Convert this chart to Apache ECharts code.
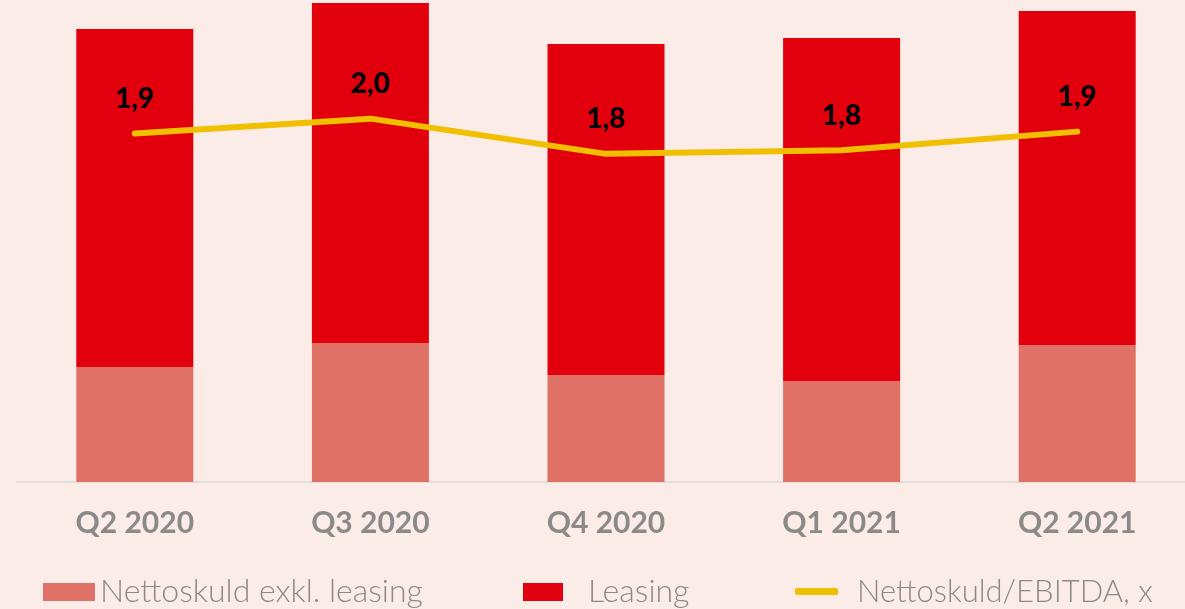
<!DOCTYPE html>
<html>
<head>
<meta charset="utf-8">
<script src="https://cdn.jsdelivr.net/npm/echarts@6/dist/echarts.min.js"></script>
<style>
  html, body { margin: 0; padding: 0; background: #FBECE8; }
  #chart { width: 1185px; height: 609px; }
</style>
</head>
<body>
<div id="chart"></div>
<script>
const quarters = ['Q2 2020', 'Q3 2020', 'Q4 2020', 'Q1 2021', 'Q2 2021'];
const nettoskuldExkl = [1150, 1390, 1070, 1010, 1370];
const leasing = [3380, 3400, 3310, 3430, 3340];
const nettoskuldEbitda = [1.88, 1.96, 1.77, 1.79, 1.89];

const gray = '#8C8A89';
const legendText = { color: gray, fontSize: 32, fontFamily: 'Lato', fontWeight: 300 };

const chart = echarts.init(document.getElementById('chart'));

chart.setOption({
    backgroundColor: '#FBECE8',
    animation: false,
    grid: { left: 17, width: 1178, top: 0, bottom: 127, outerBoundsMode: 'none', containLabel: false },
    legend: [
        {
            data: ['Nettoskuld exkl. leasing'],
            left: 38, top: 571,
            icon: 'rect',
            itemWidth: 52, itemHeight: 18,
            textStyle: legendText
        },
        {
            data: ['Leasing'],
            left: 518, top: 571,
            icon: 'rect',
            itemWidth: 40, itemHeight: 18,
            textStyle: Object.assign({}, legendText, { padding: [0, 0, 0, 20] })
        },
        {
            data: ['Nettoskuld/EBITDA, x'],
            left: 790, top: 571,
            icon: 'roundRect',
            itemWidth: 43, itemHeight: 7,
            textStyle: Object.assign({}, legendText, { fontSize: 31, padding: [0, 0, 0, 14] })
        }
    ],
    xAxis: {
        type: 'category',
        data: quarters,
        axisLine: { show: true, lineStyle: { color: '#E2DDDB', width: 2 } },
        axisTick: { show: false },
        axisLabel: {
            color: gray, fontSize: 30, fontWeight: 'bold',
            fontFamily: 'Lato', margin: 26
        }
    },
    yAxis: [
        { type: 'value', min: 0, max: 4820, show: false, splitLine: { show: false } },
        { type: 'value', min: 0, max: 2.6, show: false, splitLine: { show: false } }
    ],
    series: [
        {
            name: 'Nettoskuld exkl. leasing',
            type: 'bar',
            stack: 'skuld',
            barWidth: 117,
            data: nettoskuldExkl,
            itemStyle: { color: '#E07166' }
        },
        {
            name: 'Leasing',
            type: 'bar',
            stack: 'skuld',
            barWidth: 117,
            data: leasing,
            itemStyle: { color: '#E2000C' }
        },
        {
            name: 'Nettoskuld/EBITDA, x',
            type: 'line',
            yAxisIndex: 1,
            data: nettoskuldEbitda,
            symbol: 'circle',
            symbolSize: 1,
            showSymbol: true,
            lineStyle: { color: '#F0C000', width: 6, cap: 'round' },
            itemStyle: { color: '#F0C000' },
            label: {
                show: true,
                position: 'top',
                distance: 20,
                color: '#000',
                fontSize: 28,
                fontWeight: 900,
                fontFamily: 'Lato',
                formatter: (p) => p.value.toFixed(1).replace('.', ',')
            }
        }
    ]
});
</script>
</body>
</html>
